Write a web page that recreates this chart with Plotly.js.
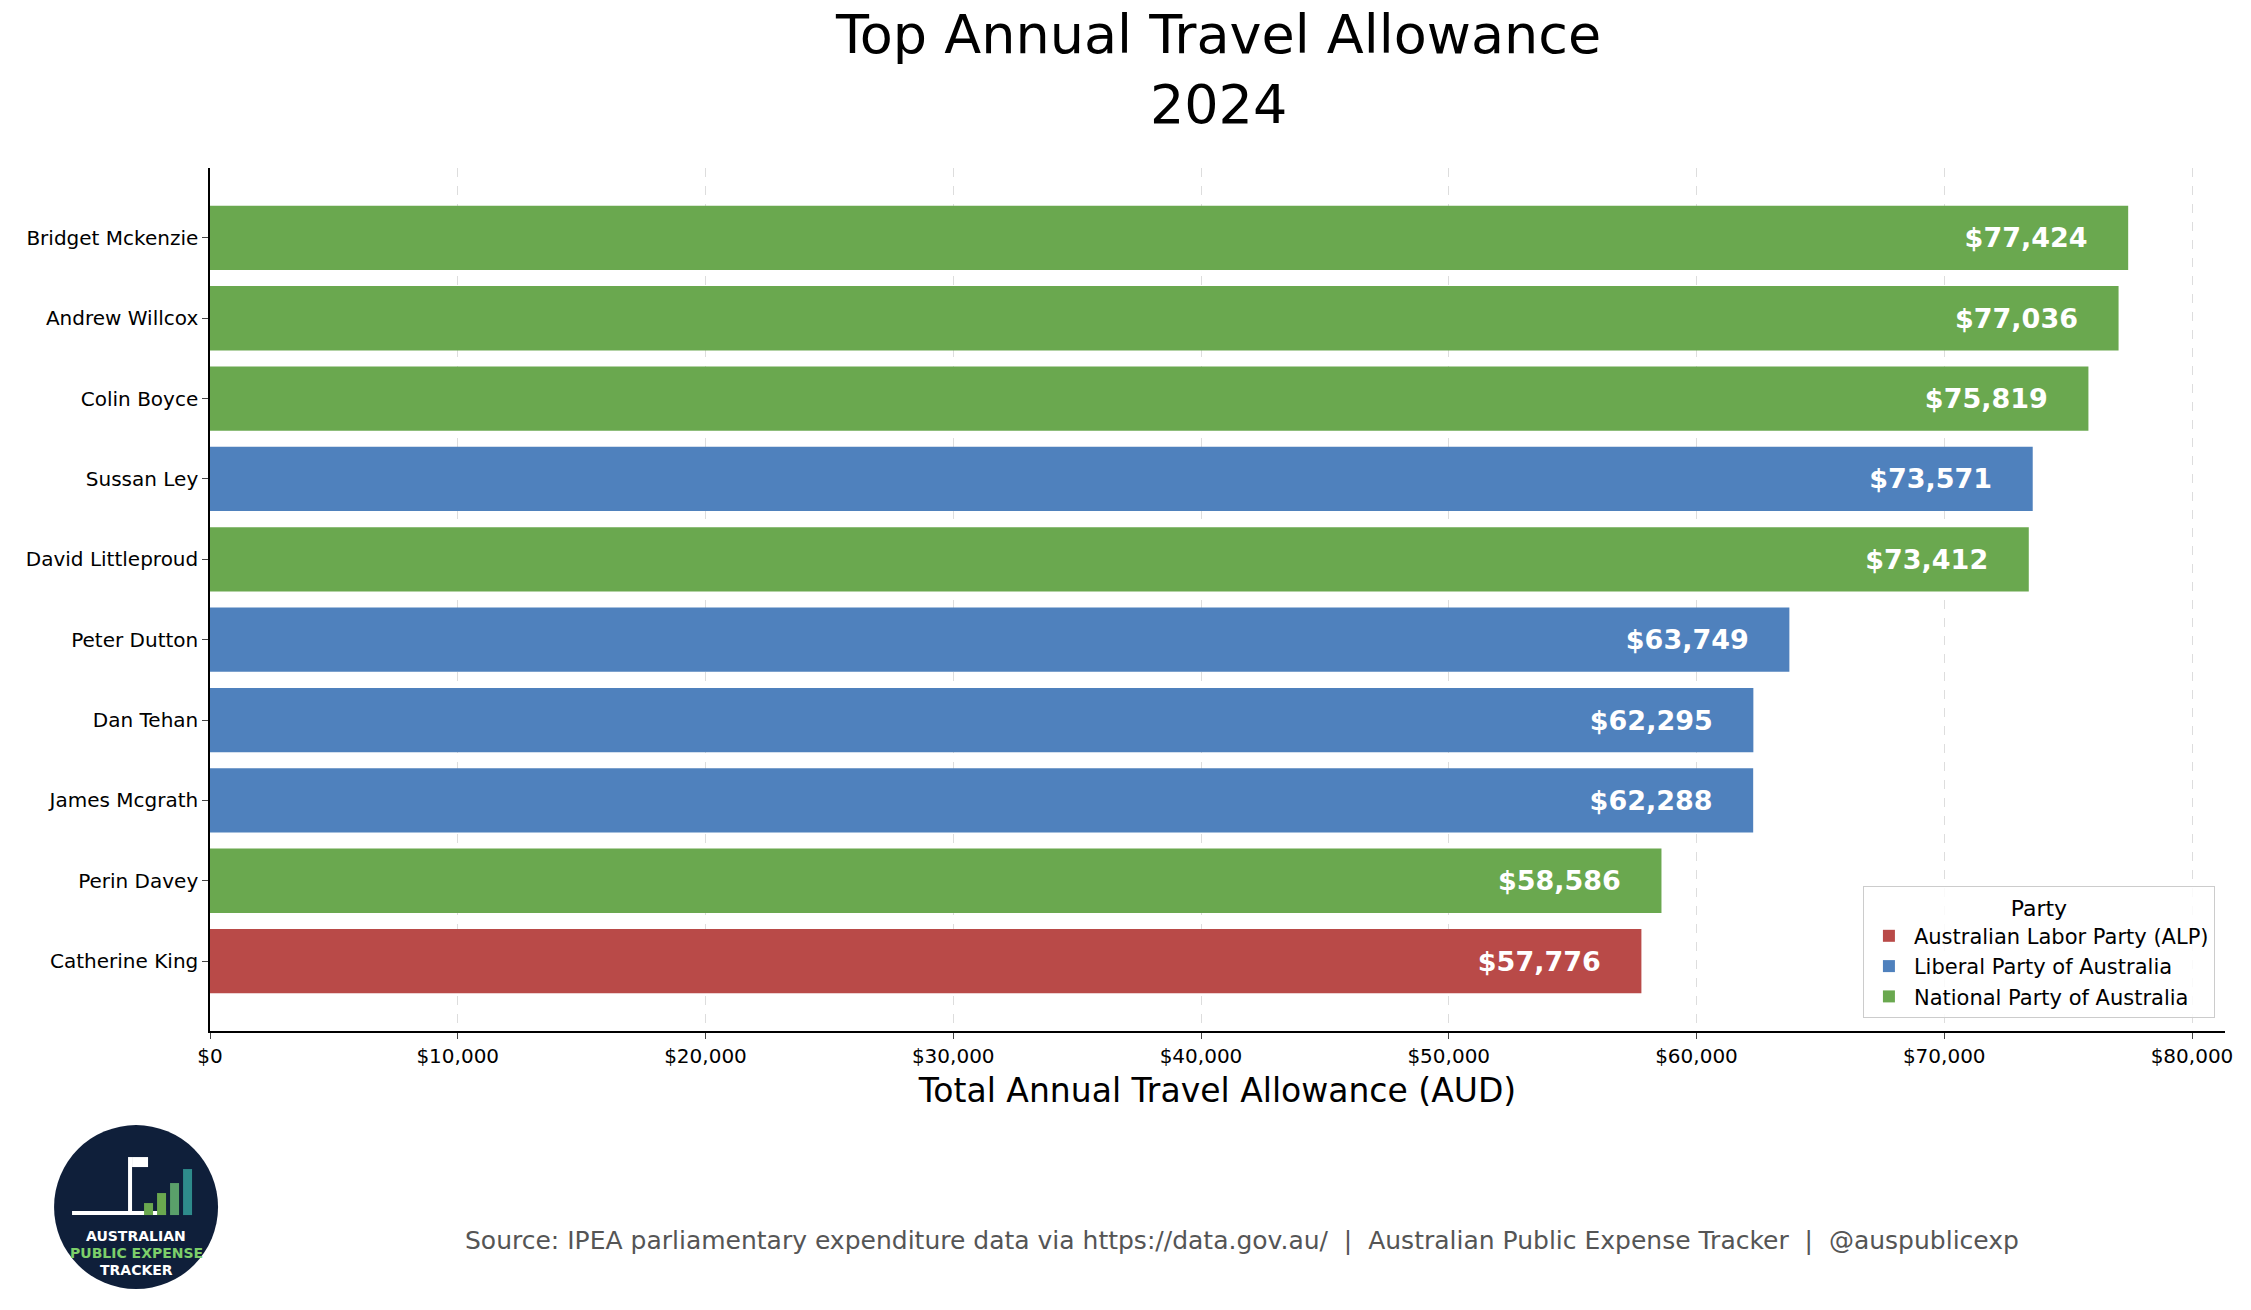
<!DOCTYPE html>
<html><head><meta charset="utf-8">
<script src="https://cdn.plot.ly/plotly-3.0.1.min.js"></script>
<style>body{margin:0;background:#fff}#chart{width:2251px;height:1310px}</style>
</head><body><div id="chart"></div>
<script>
// top 10 travel allowance, 2024
const names = ["Bridget Mckenzie","Andrew Willcox","Colin Boyce","Sussan Ley","David Littleproud",
  "Peter Dutton","Dan Tehan","James Mcgrath","Perin Davey","Catherine King"];
const amounts = [77424, 77036, 75819, 73571, 73412, 63749, 62295, 62288, 58586, 57776];
const parties = ["National Party of Australia","National Party of Australia","National Party of Australia",
  "Liberal Party of Australia","National Party of Australia","Liberal Party of Australia",
  "Liberal Party of Australia","Liberal Party of Australia","National Party of Australia",
  "Australian Labor Party (ALP)"];
const partyOrder = ["Australian Labor Party (ALP)","Liberal Party of Australia","National Party of Australia"];
const partyColors = {"Australian Labor Party (ALP)":"#b94a48","Liberal Party of Australia":"#4f81bd","National Party of Australia":"#6aa84f"};
const xTicks = [0,10000,20000,30000,40000,50000,60000,70000,80000];

const fmt = v => "$" + v.toLocaleString("en-US");

let traces = partyOrder.map(p => {
    let idx = names.map((n,i) => i).filter(i => parties[i] === p);
    return {
        type: "bar", orientation: "h", name: p,
        y: idx.map(i => names[i]),
        x: idx.map(i => amounts[i]),
        text: idx.map(i => fmt(amounts[i]) + "\u00a0\u00a0\u00a0\u00a0"),
        textposition: "inside", insidetextanchor: "end",
        textfont: {family: "DejaVu Sans", size: 27, color: "white", weight: "bold"},
        marker: {color: partyColors[p]},
        width: 0.8
    };
});

// logo pieces, in pixels around the circle centre
const cx = -0.0367, cy = -0.204;
const px = (a, b, c, d, col) => ({type: "rect", xref: "paper", yref: "paper", xsizemode: "pixel", ysizemode: "pixel",
    xanchor: cx, yanchor: cy, x0: a, x1: b, y0: c, y1: d, fillcolor: col, line: {width: 0}});

let layout = {
    width: 2251, height: 1310,
    margin: {l: 210, r: 26, t: 168, b: 279},
    font: {family: "DejaVu Sans", color: "#000"},
    paper_bgcolor: "white", plot_bgcolor: "white",
    barmode: "overlay",
    xaxis: {
        range: [0, 81332], tickvals: xTicks, ticktext: xTicks.map(fmt),
        tickfont: {size: 20}, ticks: "outside", ticklen: 6,
        showgrid: true, gridcolor: "#dddddd", griddash: "dash", gridwidth: 1,
        showline: true, linecolor: "#000", linewidth: 1.5, zeroline: false,
        title: {text: "Total Annual Travel Allowance (AUD)", font: {size: 33}, standoff: 12}
    },
    yaxis: {
        categoryorder: "array", categoryarray: names.slice().reverse(),
        range: [-0.87, 9.87],
        tickfont: {size: 20}, ticks: "outside", ticklen: 6,
        showline: true, linecolor: "#000", linewidth: 1.5, showgrid: false
    },
    showlegend: true,
    legend: {
        title: {text: "Party", side: "top center", font: {size: 22}},
        x: 0.995, xanchor: "right", y: 0.015, yanchor: "bottom",
        bgcolor: "rgba(255,255,255,0.85)", bordercolor: "#cccccc", borderwidth: 1,
        font: {size: 21}, traceorder: "normal", itemwidth: 40
    },
    shapes: [
        {type: "circle", xref: "paper", yref: "paper", xsizemode: "pixel", ysizemode: "pixel",
         xanchor: cx, yanchor: cy, x0: -82, x1: 82, y0: -82, y1: 82,
         fillcolor: "#0f1f3a", line: {width: 0}},
        px(-64, 30, -8, -4, "#ffffff"),
        px(-8, -4, -4, 50, "#ffffff"),
        px(-4, 12, 40, 50, "#ffffff"),
        px(8, 17, -8, 4, "#6aa84f"),
        px(21, 30, -8, 14, "#6aa84f"),
        px(34, 43, -8, 24, "#5aa06a"),
        px(47, 56, -8, 38, "#2e8b8b")
    ],
    annotations: [
        {text: "Top Annual Travel Allowance<br>2024", xref: "paper", yref: "paper", x: 0.5, y: 1,
         xanchor: "center", yanchor: "bottom", yshift: 30, showarrow: false,
         font: {size: 54, color: "#000"}},
        {text: "Source: IPEA parliamentary expenditure data via https://data.gov.au/  |  Australian Public Expense Tracker  |  @auspublicexp",
         xref: "paper", yref: "paper", x: 0.512, y: -0.262, xanchor: "center", showarrow: false,
         font: {size: 25, color: "#555"}},
        {text: "<b>AUSTRALIAN</b>", xref: "paper", yref: "paper", x: cx, y: -0.2375, xanchor: "center", yanchor: "middle", showarrow: false,
         font: {size: 14, color: "white"}},
        {text: "<b>PUBLIC EXPENSE</b>", xref: "paper", yref: "paper", x: cx, y: -0.257, xanchor: "center", yanchor: "middle", showarrow: false,
         font: {size: 14, color: "#7ccf6a"}},
        {text: "<b>TRACKER</b>", xref: "paper", yref: "paper", x: cx, y: -0.2765, xanchor: "center", yanchor: "middle", showarrow: false,
         font: {size: 14, color: "white"}}
    ]
};

Plotly.newPlot("chart", traces, layout, {displayModeBar: false});
</script>
</body></html>
